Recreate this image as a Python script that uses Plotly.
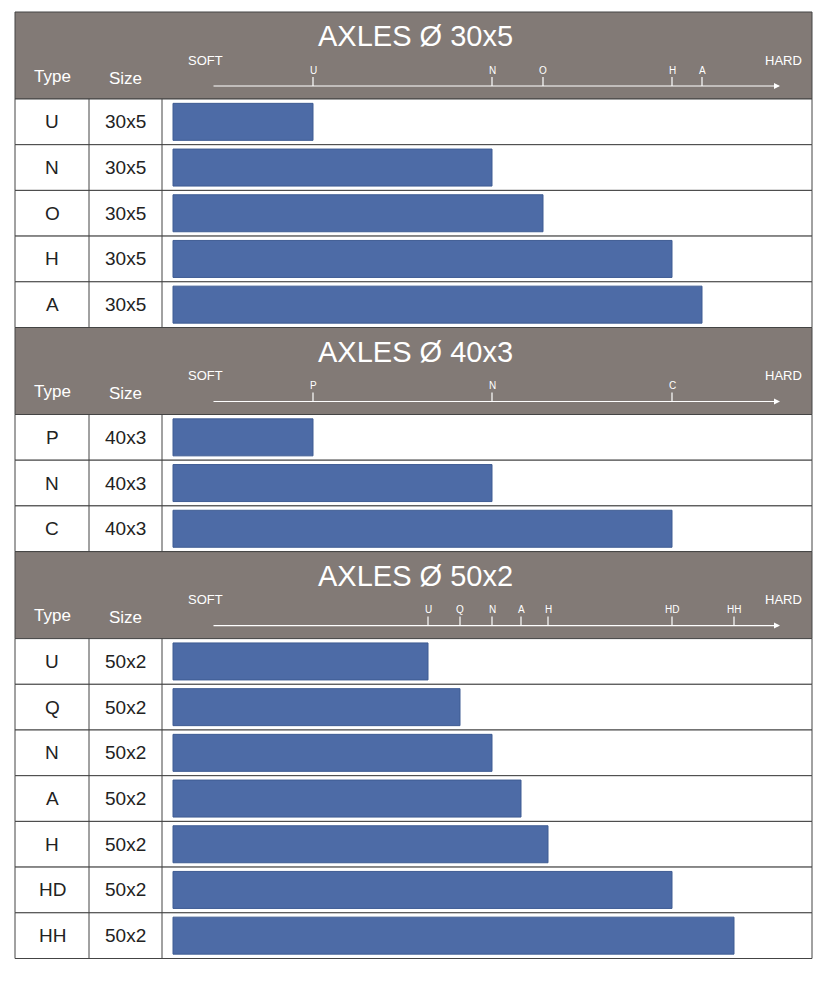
import plotly.graph_objects as go

# hardness values, measured as length from the SOFT end of the scale
titles = ["AXLES Ø 30x5", "AXLES Ø 40x3", "AXLES Ø 50x2"]
types_30 = ["U", "N", "O", "H", "A"]
hard_30 = [140, 319, 370, 499, 529]
types_40 = ["P", "N", "C"]
hard_40 = [140, 319, 499]
types_50 = ["U", "Q", "N", "A", "H", "HD", "HH"]
hard_50 = [255, 287, 319, 348, 375, 499, 561]
sizes = ["30x5", "40x3", "50x2"]

sections = [(titles[0], types_30, hard_30, sizes[0]),
            (titles[1], types_40, hard_40, sizes[1]),
            (titles[2], types_50, hard_50, sizes[2])]

X0 = 173          # pixel where the scale starts
OFF = 8           # page body margin
LEFT, C1, C2, RIGHT = 15, 89, 162, 812
HEAD_H, ROW_H = 87, 45.7
GRAY = "#827a76"
BLUE = "#4d6ba6"
LINE = "#444444"

def px(v):
    return v - X0

fig = go.Figure()
shapes, ann = [], []
font = "Liberation Sans, Arial"
y = 12
for title, types, vals, size in sections:
    top = y
    shapes.append(dict(type="rect", x0=px(LEFT), x1=px(RIGHT), y0=y, y1=y + HEAD_H,
                       fillcolor=GRAY, line=dict(color=LINE, width=1), layer="below"))
    ann.append(dict(x=px(415), y=y + 24, text=title, showarrow=False,
                    font=dict(size=29, color="white", family=font)))
    ann.append(dict(x=px(52), y=y + 64, text="Type", showarrow=False,
                    font=dict(size=17, color="white", family=font)))
    ann.append(dict(x=px(125), y=y + 66, text="Size", showarrow=False,
                    font=dict(size=17, color="white", family=font)))
    ann.append(dict(x=px(205), y=y + 48, text="SOFT", showarrow=False,
                    font=dict(size=13, color="white", family=font)))
    ann.append(dict(x=px(783), y=y + 48, text="HARD", showarrow=False,
                    font=dict(size=13, color="white", family=font)))
    ay = y + 74
    ann.append(dict(x=px(780), y=ay, ax=px(212), ay=ay, axref="x", ayref="y",
                    text="", showarrow=True, arrowhead=2, arrowsize=1,
                    arrowwidth=1.2, arrowcolor="white"))
    for t, v in zip(types, vals):
        shapes.append(dict(type="line", x0=v, x1=v, y0=ay - 9, y1=ay,
                           line=dict(color="white", width=1.2)))
        ann.append(dict(x=v, y=ay - 16, text=t, showarrow=False,
                        font=dict(size=10, color="white", family=font)))
    y += HEAD_H
    centers = []
    for t in types:
        shapes.append(dict(type="rect", x0=px(LEFT), x1=px(RIGHT), y0=y, y1=y + ROW_H,
                           fillcolor="white", line=dict(color=LINE, width=1), layer="below"))
        ann.append(dict(x=px(52), y=y + ROW_H / 2, text=t, showarrow=False,
                        font=dict(size=19, color="#222", family=font)))
        ann.append(dict(x=px(125), y=y + ROW_H / 2, text=size, showarrow=False,
                        font=dict(size=19, color="#222", family=font)))
        centers.append(y + ROW_H / 2)
        y += ROW_H
    for cx in (C1, C2):
        shapes.append(dict(type="line", x0=px(cx), x1=px(cx), y0=top + HEAD_H, y1=y,
                           line=dict(color=LINE, width=1), layer="below"))
    fig.add_trace(go.Bar(x=vals, y=centers, orientation="h", width=37, base=0,
                         marker=dict(color=BLUE, line=dict(color="#3f5c93", width=1)),
                         hoverinfo="skip"))

fig.update_layout(width=829, height=1000, margin=dict(l=0, r=0, t=0, b=0),
                  paper_bgcolor="white", plot_bgcolor="white", showlegend=False,
                  shapes=shapes, annotations=ann,
                  xaxis=dict(range=[-X0 + OFF, 829 - X0 + OFF], visible=False, fixedrange=True),
                  yaxis=dict(range=[1000 + OFF, OFF], visible=False, fixedrange=True))
fig.write_html("out.html")
